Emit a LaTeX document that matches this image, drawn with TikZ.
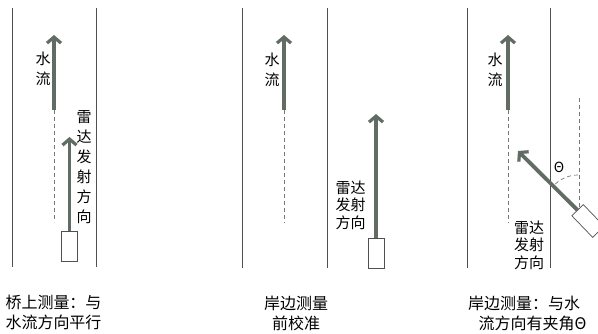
\documentclass[tikz,border=0pt]{standalone}
\usepackage{fontspec}
\setmainfont{Noto Sans CJK SC}
\usetikzlibrary{arrows.meta}
\definecolor{arrowc}{RGB}{96,108,100}
\definecolor{bankc}{RGB}{80,80,80}
\definecolor{dashc}{RGB}{120,120,120}
\begin{document}
\begin{tikzpicture}[x=1pt,y=-1pt,
  bank/.style={draw=bankc,line width=0.8pt},
  guide/.style={draw=dashc,line width=0.7pt,dash pattern=on 4pt off 3pt},
  flow/.style={draw=arrowc,line width=3.8pt,-{Straight Barb[length=6pt,width=14pt,line width=3.2pt]}},
  radar/.style={draw=bankc,fill=white,line width=0.7pt,minimum width=16pt,minimum height=30pt,inner sep=0pt},
  vlabel/.style={font=\fontsize{15}{20}\selectfont,align=center,inner sep=0pt},
  blabel/.style={font=\fontsize{15}{17.5}\selectfont,align=center,inner sep=0pt},
  captext/.style={font=\fontsize{16}{20}\selectfont,inner sep=0pt}]
\useasboundingbox (0,0) rectangle (598,334);
% ---------- panel 1 ----------
\draw[bank] (12,8) -- (12,267);
\draw[bank] (96,8) -- (96,267);
\coordinate (w1s) at (54,110);
\coordinate (w1e) at (54,35);
\coordinate (w1d) at (54,222);
\draw[guide] (w1s) -- (w1d);
\draw[flow] (w1s) -- (w1e);
\node[vlabel] (t1w) at (43,69) {水\\流};
\node[radar] (r1) at (69.5,246.5) {};
\coordinate (r1e) at (69.5,137);
\draw[flow] (r1.north) -- (r1e);
\node[vlabel] (t1r) at (84,167) {雷\\达\\发\\射\\方\\向};
\node[captext] (c1a) at (53.5,302) {桥上测量：与};
\node[captext] (c1b) at (53.5,322) {水流方向平行};
% ---------- panel 2 ----------
\draw[bank] (242,8) -- (242,268);
\draw[bank] (327,8) -- (327,268);
\coordinate (w2s) at (284,110);
\coordinate (w2e) at (284,35);
\coordinate (w2d) at (284,223);
\draw[guide] (w2s) -- (w2d);
\draw[flow] (w2s) -- (w2e);
\node[vlabel] (t2w) at (272,70) {水\\流};
\node[radar] (r2) at (376,253) {};
\coordinate (r2e) at (376,114);
\draw[flow] (r2.north) -- (r2e);
\node[blabel] (t2r) at (350.5,205) {雷达\\发射\\方向};
\node[captext] (c2a) at (296,303) {岸边测量};
\node[captext] (c2b) at (296,323) {前校准};
% ---------- panel 3 ----------
\draw[bank] (467,8) -- (467,268);
\draw[bank] (550,8) -- (550,268);
\coordinate (w3s) at (508,110);
\coordinate (w3e) at (508,35);
\coordinate (w3d) at (508,223);
\draw[guide] (w3s) -- (w3d);
\draw[flow] (w3s) -- (w3e);
\node[vlabel] (t3w) at (495,70) {水\\流};
\coordinate (v3t) at (579,98);
\coordinate (v3b) at (579,207);
\draw[guide] (v3t) -- (v3b);
\node[radar,rotate=44] (r3) at (588,221) {};
\coordinate (r3e) at (518,151);
\draw[flow] (r3.north) -- (r3e);
\draw[guide] (578,175) arc[start angle=-90,end angle=-136,radius=33];
\node[font=\fontsize{14}{15}\selectfont,inner sep=0pt] (th) at (559,167) {Θ};
\node[blabel] (t3r) at (529,245) {雷达\\发射\\方向};
\node[captext] (c3a) at (524,303) {岸边测量：与水};
\node[captext] (c3b) at (532.5,323) {流方向有夹角Θ};
\end{tikzpicture}
\end{document}
